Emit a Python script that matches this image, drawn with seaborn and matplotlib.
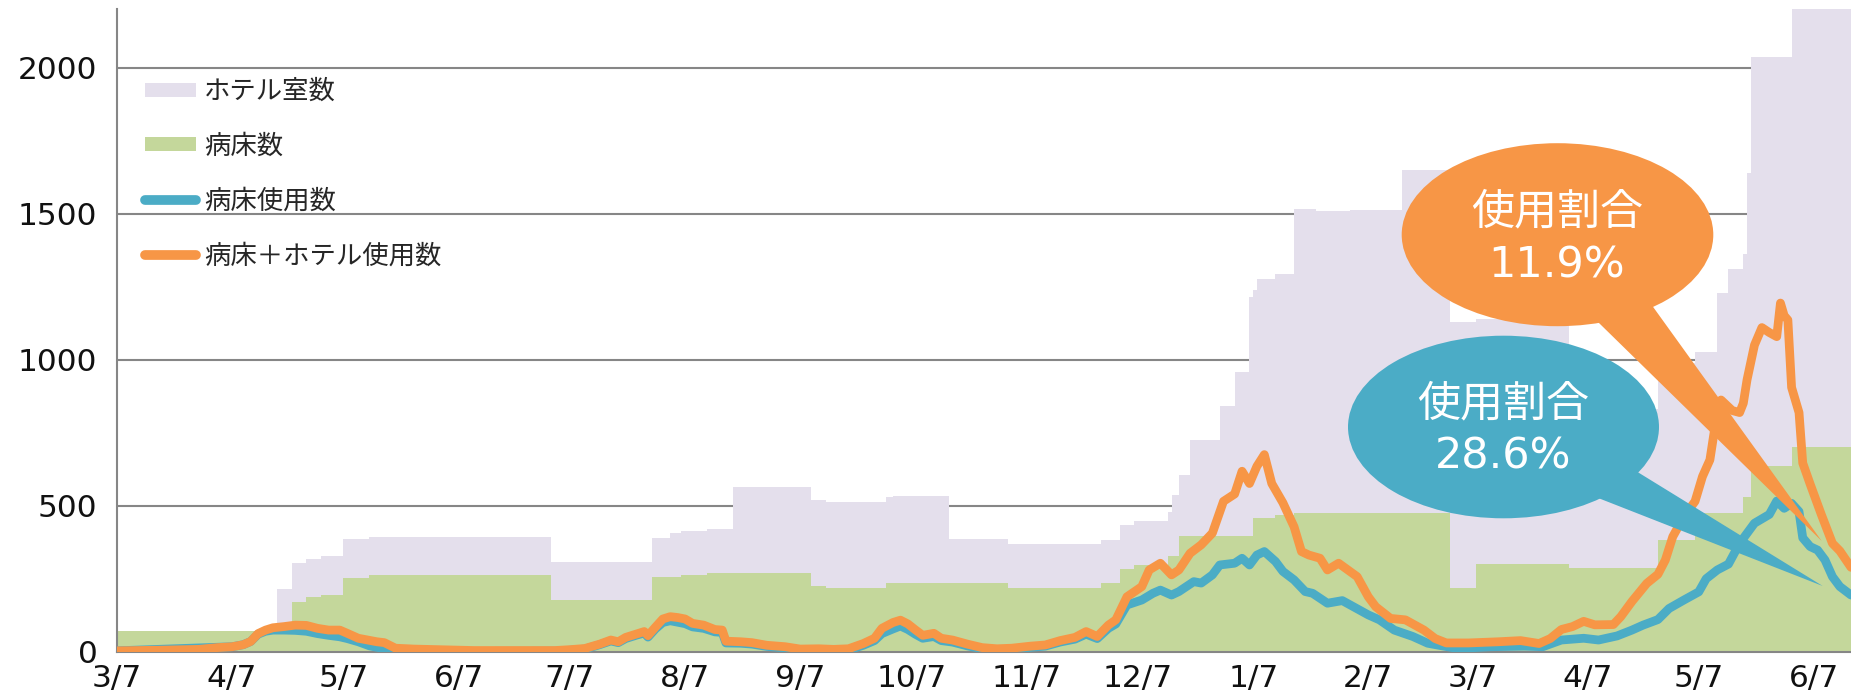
import numpy as np
import pandas as pd
import matplotlib
matplotlib.use("Agg")
import matplotlib.pyplot as plt
import seaborn as sns
from matplotlib.patches import Ellipse, Polygon, Patch
from matplotlib.lines import Line2D

# ---------------- data ----------------
hotel_dates = ["2020-04-19", "2020-04-23", "2020-04-27", "2020-05-01", "2020-05-07", "2020-05-14",
               "2020-07-02", "2020-07-29", "2020-08-03", "2020-08-06", "2020-08-13", "2020-08-20",
               "2020-09-10", "2020-09-14", "2020-09-30", "2020-10-02", "2020-10-17", "2020-11-02",
               "2020-11-27", "2020-12-02", "2020-12-06", "2020-12-15", "2020-12-16", "2020-12-18",
               "2020-12-21", "2020-12-29", "2021-01-02", "2021-01-06", "2021-01-07", "2021-01-08",
               "2021-01-13", "2021-01-18", "2021-01-24", "2021-02-02", "2021-02-16", "2021-03-01",
               "2021-03-08", "2021-04-02", "2021-04-26", "2021-05-06", "2021-05-12", "2021-05-15",
               "2021-05-19", "2021-05-20", "2021-05-21", "2021-06-01"]
hotel_rooms = [215, 303, 318, 328, 385, 394,
               308, 388, 408, 415, 420, 565,
               520, 514, 529, 533, 386, 369,
               382, 434, 449, 480, 537, 605,
               725, 843, 959, 1216, 1239, 1275,
               1292, 1515, 1509, 1513, 1650, 1130,
               1140, 830, 990, 1028, 1227, 1309,
               1362, 1638, 2035, 2230]

bed_dates = ["2020-03-07", "2020-04-23", "2020-04-27", "2020-05-01", "2020-05-07", "2020-05-14",
             "2020-07-02", "2020-07-29", "2020-08-06", "2020-08-13", "2020-09-10", "2020-09-14",
             "2020-09-30", "2020-11-02", "2020-11-27", "2020-12-02", "2020-12-06", "2020-12-15",
             "2020-12-18", "2021-01-07", "2021-01-13", "2021-01-18", "2021-02-04", "2021-03-01",
             "2021-03-08", "2021-04-02", "2021-04-26", "2021-05-06", "2021-05-19", "2021-05-21",
             "2021-06-01"]
beds = [72, 171, 188, 194, 253, 263,
        177, 255, 263, 268, 226, 219,
        234, 219, 234, 282, 297, 328,
        396, 457, 468, 476, 474, 217,
        300, 285, 383, 476, 531, 636,
        702]

bed_use_dates = ["2020-03-07", "2020-04-07", "2020-04-10", "2020-04-12", "2020-04-14", "2020-04-16",
                 "2020-04-18", "2020-04-21", "2020-04-24", "2020-04-27", "2020-04-30", "2020-05-03",
                 "2020-05-06", "2020-05-08", "2020-05-11", "2020-05-14", "2020-05-18", "2020-05-21",
                 "2020-05-26", "2020-06-05", "2020-06-15", "2020-07-03", "2020-07-07", "2020-07-11",
                 "2020-07-15", "2020-07-18", "2020-07-20", "2020-07-22", "2020-07-25", "2020-07-27",
                 "2020-07-28", "2020-07-30", "2020-08-01", "2020-08-03", "2020-08-05", "2020-08-07",
                 "2020-08-09", "2020-08-12", "2020-08-15", "2020-08-17", "2020-08-18", "2020-08-22",
                 "2020-08-25", "2020-08-29", "2020-09-03", "2020-09-07", "2020-09-12", "2020-09-16",
                 "2020-09-20", "2020-09-24", "2020-09-27", "2020-09-29", "2020-10-02", "2020-10-04",
                 "2020-10-06", "2020-10-08", "2020-10-10", "2020-10-13", "2020-10-15", "2020-10-18",
                 "2020-10-22", "2020-10-26", "2020-10-30", "2020-11-03", "2020-11-08", "2020-11-12",
                 "2020-11-16", "2020-11-20", "2020-11-23", "2020-11-26", "2020-11-29", "2020-12-01",
                 "2020-12-04", "2020-12-08", "2020-12-11", "2020-12-13", "2020-12-16", "2020-12-18",
                 "2020-12-22", "2020-12-24", "2020-12-27", "2020-12-29", "2021-01-02", "2021-01-04",
                 "2021-01-06", "2021-01-08", "2021-01-10", "2021-01-13", "2021-01-15", "2021-01-18",
                 "2021-01-21", "2021-01-23", "2021-01-27", "2021-01-31", "2021-02-03", "2021-02-07",
                 "2021-02-10", "2021-02-14", "2021-02-19", "2021-02-23", "2021-02-26", "2021-03-03",
                 "2021-03-12", "2021-03-21", "2021-03-26", "2021-03-31", "2021-04-06", "2021-04-10",
                 "2021-04-15", "2021-04-19", "2021-04-22", "2021-04-26", "2021-04-29", "2021-05-03",
                 "2021-05-07", "2021-05-09", "2021-05-12", "2021-05-15", "2021-05-18", "2021-05-22",
                 "2021-05-26", "2021-05-28", "2021-05-30", "2021-06-01", "2021-06-03", "2021-06-04",
                 "2021-06-06", "2021-06-08", "2021-06-10", "2021-06-12", "2021-06-14", "2021-06-17"]
bed_use = [3, 17, 24, 35, 60, 70,
           74, 74, 73, 70, 62, 56,
           51, 45, 34, 20, 10, 4,
           2, 1, 1, 2, 5, 9,
           24, 37, 31, 45, 57, 64,
           50, 78, 100, 106, 101, 96,
           85, 80, 68, 66, 30, 29,
           26, 18, 13, 6, 5, 4,
           6, 22, 38, 62, 78, 88,
           76, 60, 46, 52, 38, 33,
           20, 10, 6, 9, 15, 19,
           33, 43, 60, 45, 80, 95,
           160, 177, 200, 211, 194, 206,
           240, 235, 263, 297, 303, 320,
           297, 331, 343, 309, 275, 246,
           206, 200, 166, 175, 154, 126,
           109, 74, 52, 29, 22, 11,
           17, 19, 17, 40, 46, 40,
           54, 74, 91, 110, 148, 177,
           205, 250, 280, 300, 371, 440,
           470, 516, 491, 508, 480, 390,
           360, 348, 314, 257, 223, 194]

total_use_dates = ["2020-03-07", "2020-03-18", "2020-03-29", "2020-04-03", "2020-04-07", "2020-04-10",
                   "2020-04-12", "2020-04-14", "2020-04-16", "2020-04-18", "2020-04-21", "2020-04-24",
                   "2020-04-27", "2020-04-30", "2020-05-03", "2020-05-06", "2020-05-08", "2020-05-11",
                   "2020-05-16", "2020-05-18", "2020-05-21", "2020-05-26", "2020-06-01", "2020-06-11",
                   "2020-06-22", "2020-07-03", "2020-07-07", "2020-07-11", "2020-07-15", "2020-07-18",
                   "2020-07-20", "2020-07-22", "2020-07-25", "2020-07-27", "2020-07-28", "2020-07-30",
                   "2020-08-01", "2020-08-03", "2020-08-05", "2020-08-07", "2020-08-09", "2020-08-12",
                   "2020-08-15", "2020-08-17", "2020-08-18", "2020-08-22", "2020-08-25", "2020-08-29",
                   "2020-09-03", "2020-09-07", "2020-09-12", "2020-09-16", "2020-09-20", "2020-09-24",
                   "2020-09-27", "2020-09-29", "2020-10-02", "2020-10-04", "2020-10-06", "2020-10-08",
                   "2020-10-10", "2020-10-13", "2020-10-15", "2020-10-18", "2020-10-22", "2020-10-26",
                   "2020-10-30", "2020-11-03", "2020-11-08", "2020-11-12", "2020-11-16", "2020-11-20",
                   "2020-11-23", "2020-11-26", "2020-11-29", "2020-12-01", "2020-12-04", "2020-12-08",
                   "2020-12-10", "2020-12-13", "2020-12-16", "2020-12-18", "2020-12-21", "2020-12-24",
                   "2020-12-27", "2020-12-30", "2021-01-02", "2021-01-04", "2021-01-06", "2021-01-08",
                   "2021-01-10", "2021-01-12", "2021-01-15", "2021-01-18", "2021-01-20", "2021-01-22",
                   "2021-01-25", "2021-01-27", "2021-01-30", "2021-02-04", "2021-02-07", "2021-02-09",
                   "2021-02-13", "2021-02-17", "2021-02-20", "2021-02-22", "2021-02-25", "2021-02-28",
                   "2021-03-06", "2021-03-14", "2021-03-20", "2021-03-25", "2021-03-28", "2021-03-31",
                   "2021-04-03", "2021-04-06", "2021-04-09", "2021-04-14", "2021-04-16", "2021-04-19",
                   "2021-04-23", "2021-04-26", "2021-04-28", "2021-04-30", "2021-05-03", "2021-05-06",
                   "2021-05-08", "2021-05-10", "2021-05-11", "2021-05-12", "2021-05-13", "2021-05-16",
                   "2021-05-18", "2021-05-19", "2021-05-20", "2021-05-22", "2021-05-24", "2021-05-26",
                   "2021-05-28", "2021-05-29", "2021-05-30", "2021-05-31", "2021-06-01", "2021-06-03",
                   "2021-06-04", "2021-06-06", "2021-06-09", "2021-06-12", "2021-06-14", "2021-06-17"]
total_use = [3, 5, 8, 14, 17, 24,
             35, 62, 74, 82, 86, 91,
             90, 80, 74, 74, 63, 46,
             34, 31, 12, 9, 7, 4,
             4, 4, 7, 11, 26, 40,
             34, 49, 61, 69, 55, 84,
             112, 120, 117, 112, 97, 91,
             76, 74, 36, 34, 31, 22,
             17, 9, 10, 8, 10, 28,
             46, 80, 100, 108, 95, 75,
             56, 63, 46, 40, 26, 14,
             10, 12, 19, 23, 38, 49,
             69, 52, 91, 109, 188, 223,
             280, 303, 263, 280, 337, 366,
             406, 515, 540, 618, 576, 635,
             675, 576, 510, 428, 343, 331,
             320, 280, 303, 257, 188, 154,
             114, 109, 88, 74, 45, 30,
             30, 34, 38, 28, 45, 76,
             86, 104, 92, 93, 120, 172,
             234, 265, 314, 394, 463, 515,
             600, 657, 740, 820, 862, 826,
             819, 851, 931, 1050, 1110, 1093,
             1079, 1194, 1151, 1136, 905, 819,
             646, 574, 470, 371, 345, 289]

tick_dates = ["2020-03-07", "2020-04-07", "2020-05-07", "2020-06-07", "2020-07-07", "2020-08-07",
              "2020-09-07", "2020-10-07", "2020-11-07", "2020-12-07", "2021-01-07", "2021-02-07",
              "2021-03-07", "2021-04-07", "2021-05-07", "2021-06-07"]
tick_labels = ["3/7", "4/7", "5/7", "6/7", "7/7", "8/7", "9/7", "10/7", "11/7", "12/7",
               "1/7", "2/7", "3/7", "4/7", "5/7", "6/7"]
y_ticks = [0, 500, 1000, 1500, 2000]

legend_labels = ["ホテル室数", "病床数", "病床使用数", "病床＋ホテル使用数"]
callout_title = "使用割合"
callout_total = "11.9%"
callout_beds = "28.6%"

x_start, x_end = "2020-03-07", "2021-06-17"

# ---------------- style ----------------
LAV = "#E4DFEC"
GRN = "#C4D79B"
BLUE = "#4BACC6"
ORANGE = "#F79646"
GRAY = "#868686"

sns.set_theme(style="white")
plt.rcParams["font.family"] = ["DejaVu Sans", "Noto Sans CJK JP"]
CJK = ["Noto Sans CJK JP", "DejaVu Sans"]

W, H = 1851, 700
fig = plt.figure(figsize=(W / 100, H / 100), dpi=100)
ax = fig.add_axes([117 / W, (H - 651.7) / H, (W - 117) / W, (651.7 - 9.3) / H])

# step areas
end = pd.Timestamp(x_end)
hx = list(pd.to_datetime(hotel_dates)) + [end]
hy = hotel_rooms + [hotel_rooms[-1]]
ax.fill_between(hx, 0, hy, step="post", color=LAV, lw=0, zorder=1)
bx = list(pd.to_datetime(bed_dates)) + [end]
by = beds + [beds[-1]]
ax.fill_between(bx, 0, by, step="post", color=GRN, lw=0, zorder=1.1)

# lines
sns.lineplot(x=pd.to_datetime(bed_use_dates), y=bed_use, ax=ax, color=BLUE, lw=6.3,
             solid_capstyle="round", solid_joinstyle="round", zorder=3, legend=False)
sns.lineplot(x=pd.to_datetime(total_use_dates), y=total_use, ax=ax, color=ORANGE, lw=6.3,
             solid_capstyle="round", solid_joinstyle="round", zorder=3.2, legend=False)

ax.set_xlim(pd.Timestamp(x_start), end)
ax.set_ylim(0, 2200)
ax.set_yticks(y_ticks)
ax.set_yticklabels([str(v) for v in y_ticks])
ax.set_xticks(pd.to_datetime(tick_dates))
ax.set_xticklabels(tick_labels)
ax.set_xlabel("")
ax.set_ylabel("")

ax.set_axisbelow(True)
ax.yaxis.grid(True, color=GRAY, lw=1.5)
ax.xaxis.grid(False)
for s in ["top", "right"]:
    ax.spines[s].set_visible(False)
for s in ["left", "bottom"]:
    ax.spines[s].set_color(GRAY)
    ax.spines[s].set_linewidth(1.5)
    ax.spines[s].set_zorder(2.5)
ax.tick_params(axis="both", which="both", direction="out", colors=GRAY, width=1.5,
               length=6, labelsize=22.5, labelcolor="#111111")
ax.tick_params(axis="y", pad=8)
ax.tick_params(axis="x", pad=3)
ax.set_facecolor("white")

# legend
handles = [Patch(facecolor=LAV, edgecolor="none"),
           Patch(facecolor=GRN, edgecolor="none"),
           Line2D([], [], color=BLUE, lw=7, solid_capstyle="round"),
           Line2D([], [], color=ORANGE, lw=7, solid_capstyle="round")]
fig.legend(handles, legend_labels, loc="upper left", bbox_to_anchor=(145 / W, 1 - 78 / H),
           frameon=False, handlelength=1.95, handleheight=0.45,
           handletextpad=0.3, labelspacing=1.05, borderpad=0, borderaxespad=0,
           prop={"family": CJK, "size": 19})


# callout bubbles (annotation shapes in figure pixels)
def fp(x, y):
    return (x / W, 1 - y / H)


def bubble(center, w, h, base1, base2, tip, color, z):
    cx, cy = fp(*center)
    e = Ellipse((cx, cy), w / W, h / H, transform=fig.transFigure, facecolor=color,
                edgecolor="none", zorder=z)
    fig.patches.append(e)
    p = Polygon([fp(*base1), fp(*base2), fp(*tip)], closed=True, transform=fig.transFigure,
                facecolor=color, edgecolor="none", zorder=z)
    fig.patches.append(p)


bubble((1503.5, 427), 311, 182.6, (1590, 494.8), (1632, 468.6), (1822.7, 586), BLUE, 10)
bubble((1557.5, 234.7), 311.6, 183, (1590, 314.2), (1645, 295.7), (1821.7, 541), ORANGE, 11)

for (x, y1, y2, pct) in [(1556.7, 212.5, 265, callout_total), (1503.3, 404, 456.6, callout_beds)]:
    fig.text(*fp(x, y1), callout_title, color="white", fontsize=31, family=CJK,
             ha="center", va="center", zorder=20)
    fig.text(*fp(x, y2), pct, color="white", fontsize=31, ha="center", va="center", zorder=20)

fig.savefig("out.png", dpi=100, facecolor="white")
